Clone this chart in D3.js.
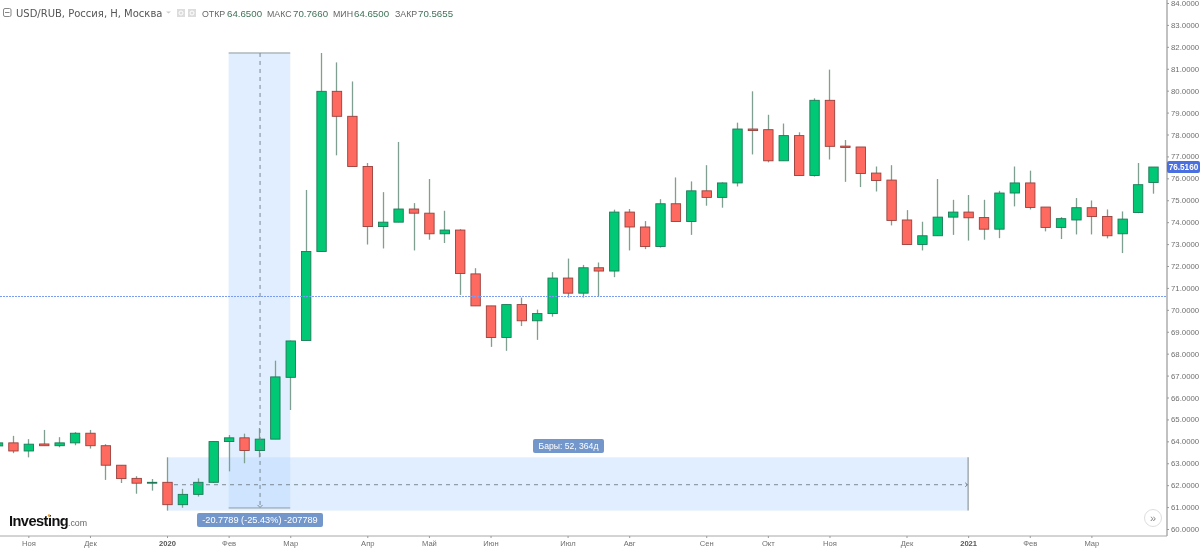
<!DOCTYPE html>
<html><head><meta charset="utf-8">
<script src="https://cdn.jsdelivr.net/npm/d3@7"></script>
<style>html,body{margin:0;padding:0;background:#fff;overflow:hidden}svg{display:block;filter:blur(.3px)}</style>
</head><body><div id="c"></div>
<script>
const firstIndex=-11;
const opens=[63.79,63.93,63.56,63.88,63.8,63.93,64.37,63.8,62.91,62.31,62.09,62.13,61.11,61.58,62.13,63.99,64.16,63.58,64.1,66.92,68.6,72.66,79.97,78.83,76.54,73.8,74.0,74.6,74.41,73.47,73.64,71.64,70.18,68.74,70.24,69.5,69.83,71.45,70.76,71.92,71.77,74.46,73.78,72.89,74.84,74.03,75.43,75.13,75.79,78.25,78.22,76.8,77.95,76.13,79.56,77.47,77.43,76.24,75.92,74.1,72.98,73.38,74.23,74.46,74.21,73.68,75.33,75.79,74.69,73.76,74.1,74.66,74.26,73.47,74.44,75.81];
const closes=[63.93,63.56,63.87,63.8,63.93,64.37,63.8,62.91,62.3,62.09,62.13,61.11,61.58,62.13,63.99,64.16,63.58,64.1,66.94,68.58,72.66,79.97,78.83,76.54,73.8,74.0,74.6,74.41,73.47,73.64,71.66,70.18,68.74,70.24,69.5,69.83,71.45,70.76,71.92,71.77,74.46,73.78,72.89,74.84,74.03,75.43,75.13,75.79,78.25,78.18,76.8,77.95,76.13,79.56,77.46,77.41,76.22,75.9,74.08,72.98,73.38,74.23,74.46,74.2,73.68,75.33,75.79,74.67,73.76,74.16,74.66,74.26,73.38,74.14,75.71,76.516];
const highs=[64.1,64.25,64.1,64.52,64.19,64.42,64.52,63.87,62.91,62.41,62.28,63.27,61.83,62.31,64.0,64.29,64.35,64.61,67.68,68.6,75.47,81.72,81.29,80.42,76.7,75.37,77.66,74.87,75.97,74.52,73.68,71.9,70.18,70.24,70.56,70.01,71.72,72.34,72.05,72.16,74.57,74.6,74.05,75.05,76.04,75.86,76.6,75.82,78.54,79.97,78.9,78.5,78.1,79.65,80.96,77.75,77.43,76.54,76.6,74.55,74.02,75.97,75.02,75.24,75.02,75.43,76.54,76.35,74.69,74.23,75.1,74.99,74.58,74.49,76.7,76.516];
const lows=[63.7,63.46,63.27,63.8,63.73,63.82,63.67,62.24,62.1,61.61,61.75,60.84,60.97,61.48,62.1,62.63,63.0,63.27,64.1,65.43,68.6,72.66,77.05,76.54,72.98,72.8,74.0,72.71,73.2,73.05,70.68,70.18,68.31,68.13,69.26,68.63,69.69,70.56,70.56,70.61,71.49,72.71,72.77,72.84,74.03,73.42,74.75,74.66,75.63,77.09,76.73,76.8,76.13,76.08,76.86,75.84,75.6,75.4,73.85,72.98,72.71,73.38,73.42,73.16,73.2,73.27,74.72,74.58,73.58,73.23,73.44,73.44,73.26,72.59,74.41,75.3];
const priceTicks=[60,61,62,63,64,65,66,67,68,69,70,71,72,73,74,75,76,77,78,79,80,81,82,83,84];
const timeIdx=[-9,-5,0,4,8,13,17,21,26,30,35,39,43,48,52,56,60];
const timeLabels=["Ноя","Дек","2020","Фев","Мар","Апр","Май","Июн","Июл","Авг","Сен","Окт","Ноя","Дек","2021","Фев","Мар"];
const boldLabels=["2020","2021"];
const lastClose=70.5655, lastPrice=76.516;
const measureRange={startI:0,endI:52,mid:62.02,lo:60.84,hi:63.27};
const measureDown={startI:4,endI:8,midI:6.04,hi:81.72,lo:60.96};
const ohlcLabels=["ОТКР","МАКС","МИН","ЗАКР"];
const ohlcValues=["64.6500","70.7660","64.6500","70.5655"];

const W=1200,H=548;
const x=d3.scaleLinear().domain([0,64]).range([167,1153]);
const y=d3.scaleLinear().domain([60,84]).range([529,3]);
const svg=d3.select("#c").append("svg").attr("width",W).attr("height",H);
const sans="'Liberation Sans',Arial,sans-serif";
const bw=9.4;

// measurement shading
const blue="rgba(186,218,255,0.45)";
svg.append("rect").attr("x",x(measureRange.startI)).attr("width",x(measureRange.endI)-x(measureRange.startI))
  .attr("y",y(measureRange.hi)).attr("height",y(measureRange.lo)-y(measureRange.hi)).attr("fill",blue);
svg.append("rect").attr("x",x(measureDown.startI)).attr("width",x(measureDown.endI)-x(measureDown.startI))
  .attr("y",y(measureDown.hi)).attr("height",y(measureDown.lo)-y(measureDown.hi)).attr("fill",blue);

// candles
const rows=opens.map((o,i)=>({i:i+firstIndex,o,c:closes[i],h:highs[i],l:lows[i]}));
const g=svg.append("g");
g.selectAll("line").data(rows).join("line")
  .attr("x1",d=>Math.round(x(d.i))+.5).attr("x2",d=>Math.round(x(d.i))+.5)
  .attr("y1",d=>y(d.h)).attr("y2",d=>y(d.l))
  .attr("stroke","#7f9f90").attr("stroke-width",1.3);
g.selectAll("rect").data(rows).join("rect")
  .attr("x",d=>x(d.i)-bw/2+.5).attr("width",bw)
  .attr("y",d=>y(Math.max(d.o,d.c))).attr("height",d=>Math.max(.8,Math.abs(y(d.o)-y(d.c))))
  .attr("fill",d=>d.c>=d.o?"#00c875":"#ff6a60")
  .attr("stroke",d=>d.c>=d.o?"#1d7a57":"#98403c").attr("stroke-width",.9);

// last close line
const lastY=Math.round(y(lastClose))-.5;
svg.append("line").attr("x1",0).attr("x2",1167).attr("y1",lastY).attr("y2",lastY)
  .attr("stroke","#7a9bf7").attr("stroke-width",1).attr("stroke-dasharray","2 1");

// measurement lines
const dash="#7b8a92";
svg.append("line").attr("x1",x(4)).attr("x2",x(8)).attr("y1",y(measureDown.hi)).attr("y2",y(measureDown.hi)).attr("stroke","#8d9aa0").attr("stroke-width",1);
svg.append("line").attr("x1",x(4)).attr("x2",x(8)).attr("y1",y(measureDown.lo)).attr("y2",y(measureDown.lo)).attr("stroke","#8d9aa0").attr("stroke-width",1);
svg.append("line").attr("x1",x(measureDown.midI)).attr("x2",x(measureDown.midI)).attr("y1",y(measureDown.hi)).attr("y2",y(measureDown.lo)).attr("stroke",dash).attr("stroke-dasharray","4 4");
svg.append("line").attr("x1",x(0)+7).attr("x2",x(52)).attr("y1",y(measureRange.mid)).attr("y2",y(measureRange.mid)).attr("stroke",dash).attr("stroke-dasharray","4 4");
svg.append("line").attr("x1",x(52)).attr("x2",x(52)).attr("y1",y(measureRange.hi)).attr("y2",y(measureRange.lo)).attr("stroke","#a9b0b4").attr("stroke-width",1.6);
svg.append("path").attr("fill","none").attr("stroke",dash)
  .attr("d",d3.line()([[x(52)-3,y(measureRange.mid)-2],[x(52)-.5,y(measureRange.mid)],[x(52)-3,y(measureRange.mid)+2]]));
svg.append("path").attr("fill","none").attr("stroke",dash)
  .attr("d",d3.line()([[x(measureDown.midI)-2.5,y(measureDown.lo)-3],[x(measureDown.midI),y(measureDown.lo)-.5],[x(measureDown.midI)+2.5,y(measureDown.lo)-3]]));

// axes
const rightAxis=svg.append("g").attr("transform","translate(1167,0)")
  .call(d3.axisRight(y).tickValues(priceTicks).tickFormat(d=>d.toFixed(4)).tickSize(2).tickPadding(2));
rightAxis.select(".domain").attr("d","M0,0V536").attr("stroke","#b2b2b2").attr("stroke-width",1.6);
rightAxis.selectAll(".tick line").attr("stroke","#999");
rightAxis.selectAll("text").attr("font-family",sans).attr("font-size",7.8).attr("fill","#6f6f6f");
const bottomAxis=svg.append("g").attr("transform","translate(0,536)")
  .call(d3.axisBottom(x).tickValues(timeIdx).tickFormat((d,i)=>timeLabels[i]).tickSize(2).tickPadding(3));
bottomAxis.select(".domain").attr("d","M0,0H1167").attr("stroke","#a8a8a8").attr("stroke-width",1);
bottomAxis.selectAll(".tick line").attr("stroke","#999");
bottomAxis.selectAll("text").attr("font-family",sans).attr("font-size",7.6).attr("fill","#6f6f6f")
  .filter((d,i)=>boldLabels.includes(timeLabels[i])).attr("font-weight","bold").attr("fill","#555");

// pills
function pill(x0,y0,w,h,fill,txt,fs,bold){
  svg.append("rect").attr("x",x0).attr("y",y0).attr("width",w).attr("height",h).attr("rx",2).attr("fill",fill);
  svg.append("text").attr("x",x0+w/2).attr("y",y0+h/2).attr("dy",".35em").attr("text-anchor","middle")
    .attr("font-family",sans).attr("font-size",fs).attr("font-weight",bold?"bold":"normal").attr("fill","#fff").text(txt);
}
pill(533,439,71,14,"#7397cb","Бары: 52, 364д",8.6);
pill(197,513,126,14,"#7397cb","-20.7789 (-25.43%) -207789",9.2);
pill(1167,y(lastPrice)-6,33,12,"#4a6fe0","76.5160",8.2,true);

// header
const head=svg.append("g").attr("font-family","'DejaVu Sans',sans-serif");
head.append("rect").attr("x",3.5).attr("y",8.5).attr("width",7.5).attr("height",8).attr("rx",1.5).attr("fill","none").attr("stroke","#888");
head.append("line").attr("x1",5).attr("x2",9.5).attr("y1",12.5).attr("y2",12.5).attr("stroke","#888");
head.append("text").attr("x",16).attr("y",16.5).attr("font-size",10).attr("fill","#555").text("USD/RUB, Россия, Н, Москва");
head.append("path").attr("d","M166,11.5h5l-2.5,2z").attr("fill","#ccc");
[177,188].forEach(a=>head.append("rect").attr("x",a).attr("y",9).attr("width",8).attr("height",8).attr("fill","#dcdcdc"));
[181,192].forEach(a=>head.append("circle").attr("cx",a).attr("cy",13).attr("r",2).attr("fill","none").attr("stroke","#fff"));
const labX=[202,267,333,395],valX=[227,293,354,418];
ohlcLabels.forEach((t,i)=>{
  head.append("text").attr("x",labX[i]).attr("y",16.5).attr("font-size",8.8).attr("font-family",sans).attr("fill","#666").text(t);
  head.append("text").attr("x",valX[i]).attr("y",16.5).attr("font-size",9.7).attr("font-family",sans).attr("fill","#3f7257").text(ohlcValues[i]);
});

// logo
svg.append("text").attr("x",9).attr("y",526).attr("font-family",sans).attr("font-weight","bold").attr("font-size",14.6).attr("letter-spacing",-.55).attr("fill","#111").text("Investing");
svg.append("text").attr("x",68).attr("y",526).attr("font-family",sans).attr("font-size",8.8).attr("fill","#666").text(".com");
svg.append("circle").attr("cx",49).attr("cy",515.5).attr("r",1.2).attr("fill","#f29b21");

// scroll button
svg.append("circle").attr("cx",1153).attr("cy",518).attr("r",8.5).attr("fill","#fff").attr("stroke","#ddd");
svg.append("text").attr("x",1153).attr("y",518).attr("dy",".33em").attr("text-anchor","middle").attr("font-family",sans).attr("font-size",11).attr("fill","#888").text("»");
</script></body></html>
